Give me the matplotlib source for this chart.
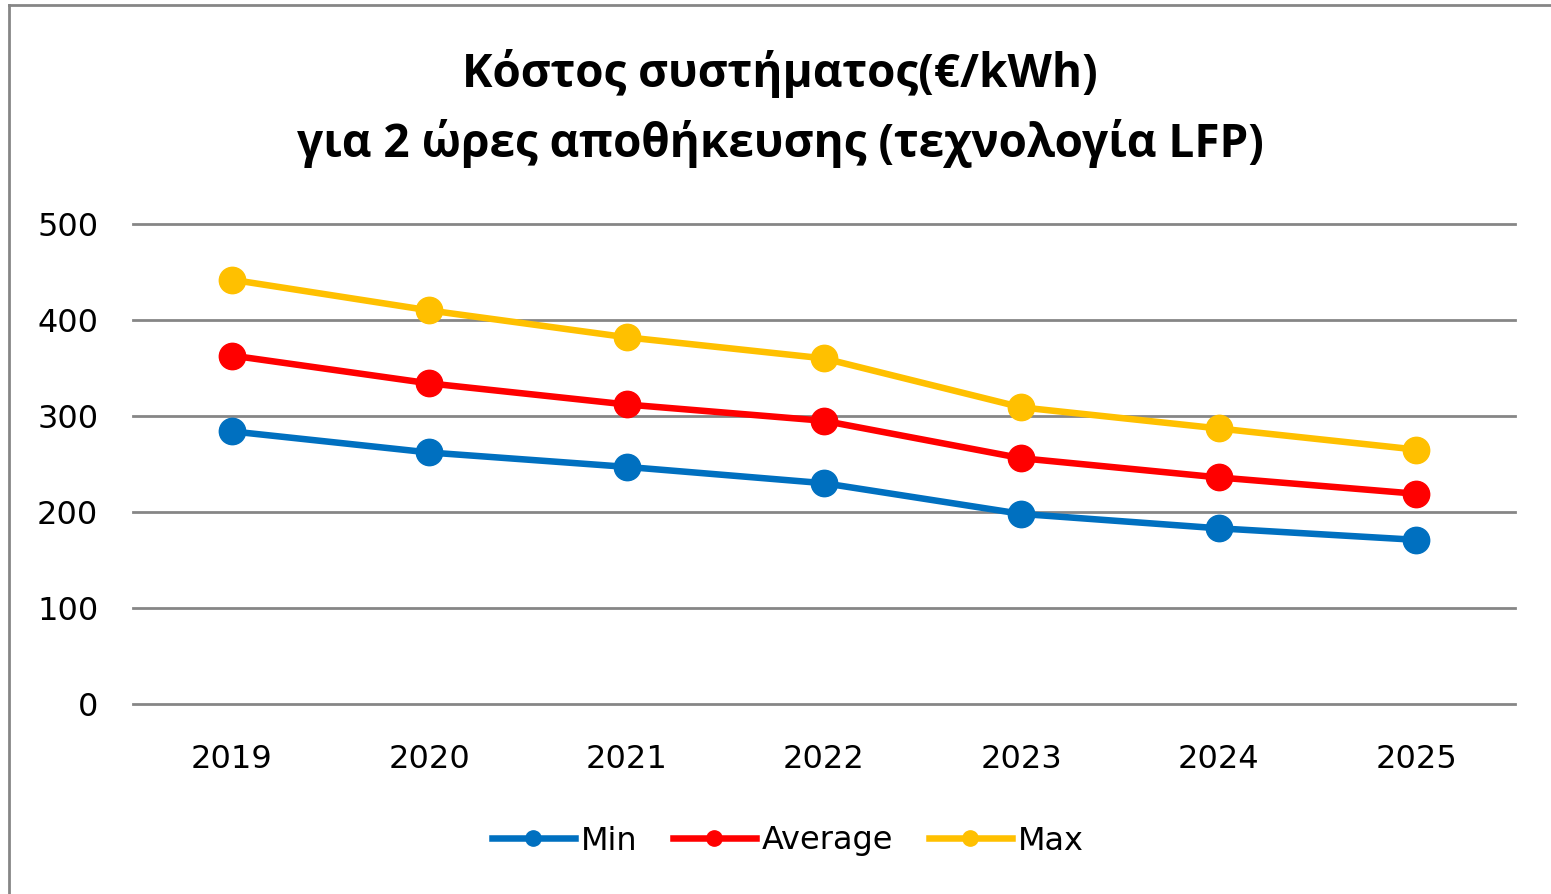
import matplotlib
matplotlib.use("Agg")
import matplotlib.pyplot as plt
from matplotlib.lines import Line2D

years = ["2019", "2020", "2021", "2022", "2023", "2024", "2025"]
min_vals = [284, 262, 247, 230, 198, 183, 171]
avg_vals = [363, 334, 312, 295, 256, 236, 219]
max_vals = [442, 410, 382, 360, 309, 287, 265]
series_names = ["Min", "Average", "Max"]
colors = ["#0070C0", "#FF0000", "#FFC000"]
yticks = [0, 100, 200, 300, 400, 500]

fig = plt.figure(figsize=(15.51, 8.94), dpi=100)
ax = fig.add_axes([133/1551, 1-704/894, (1515-133)/1551, (704-224)/894])

x = list(range(len(years)))
for vals, c, name in zip([min_vals, avg_vals, max_vals], colors, series_names):
    ax.plot(x, vals, color=c, lw=4.7, marker="o", ms=19, label=name,
            solid_capstyle="round", zorder=3)

ax.set_xlim(-0.5, len(years) - 0.5)
ax.set_ylim(0, 500)
ax.set_yticks(yticks)
ax.set_xticks(x)
ax.set_xticklabels(years)
ax.grid(axis="y", color="#868686", lw=2)
for gl in ax.get_ygridlines():
    gl.set_clip_on(False)
ax.set_axisbelow(True)
for s in ax.spines.values():
    s.set_visible(False)
ax.tick_params(axis="both", length=0, labelsize=23, labelcolor="#000000")
ax.tick_params(axis="y", pad=25)
ax.tick_params(axis="x", pad=29)

tfam = ["Open Sans", "DejaVu Sans"]
fig.text(0.503, 1-74/894, "Κόστος συστήματος(€/kWh)", ha="center", va="center",
         fontsize=33, fontweight="bold", family=tfam)
fig.text(0.503, 1-143/894, "για 2 ώρες αποθήκευσης (τεχνολογία LFP)", ha="center",
         va="center", fontsize=33, fontweight="bold", family=tfam)

handles = [Line2D([0], [0], color=c, lw=4.7, marker="o", ms=11) for c in colors]
fig.legend(handles, series_names, loc="center", bbox_to_anchor=(0.508, 1-841/894),
           ncol=3, frameon=False, fontsize=23, handlelength=2.6, handletextpad=0.2,
           columnspacing=1.1)

# outer chart border (top and left visible)
fig.add_artist(Line2D([9/1551, 9/1551], [0, 1-5/894], color="#868686", lw=2,
                      transform=fig.transFigure))
fig.add_artist(Line2D([9/1551, 1], [1-5/894, 1-5/894], color="#868686", lw=2,
                      transform=fig.transFigure))

fig.savefig("out.png", dpi=100, facecolor="white")
